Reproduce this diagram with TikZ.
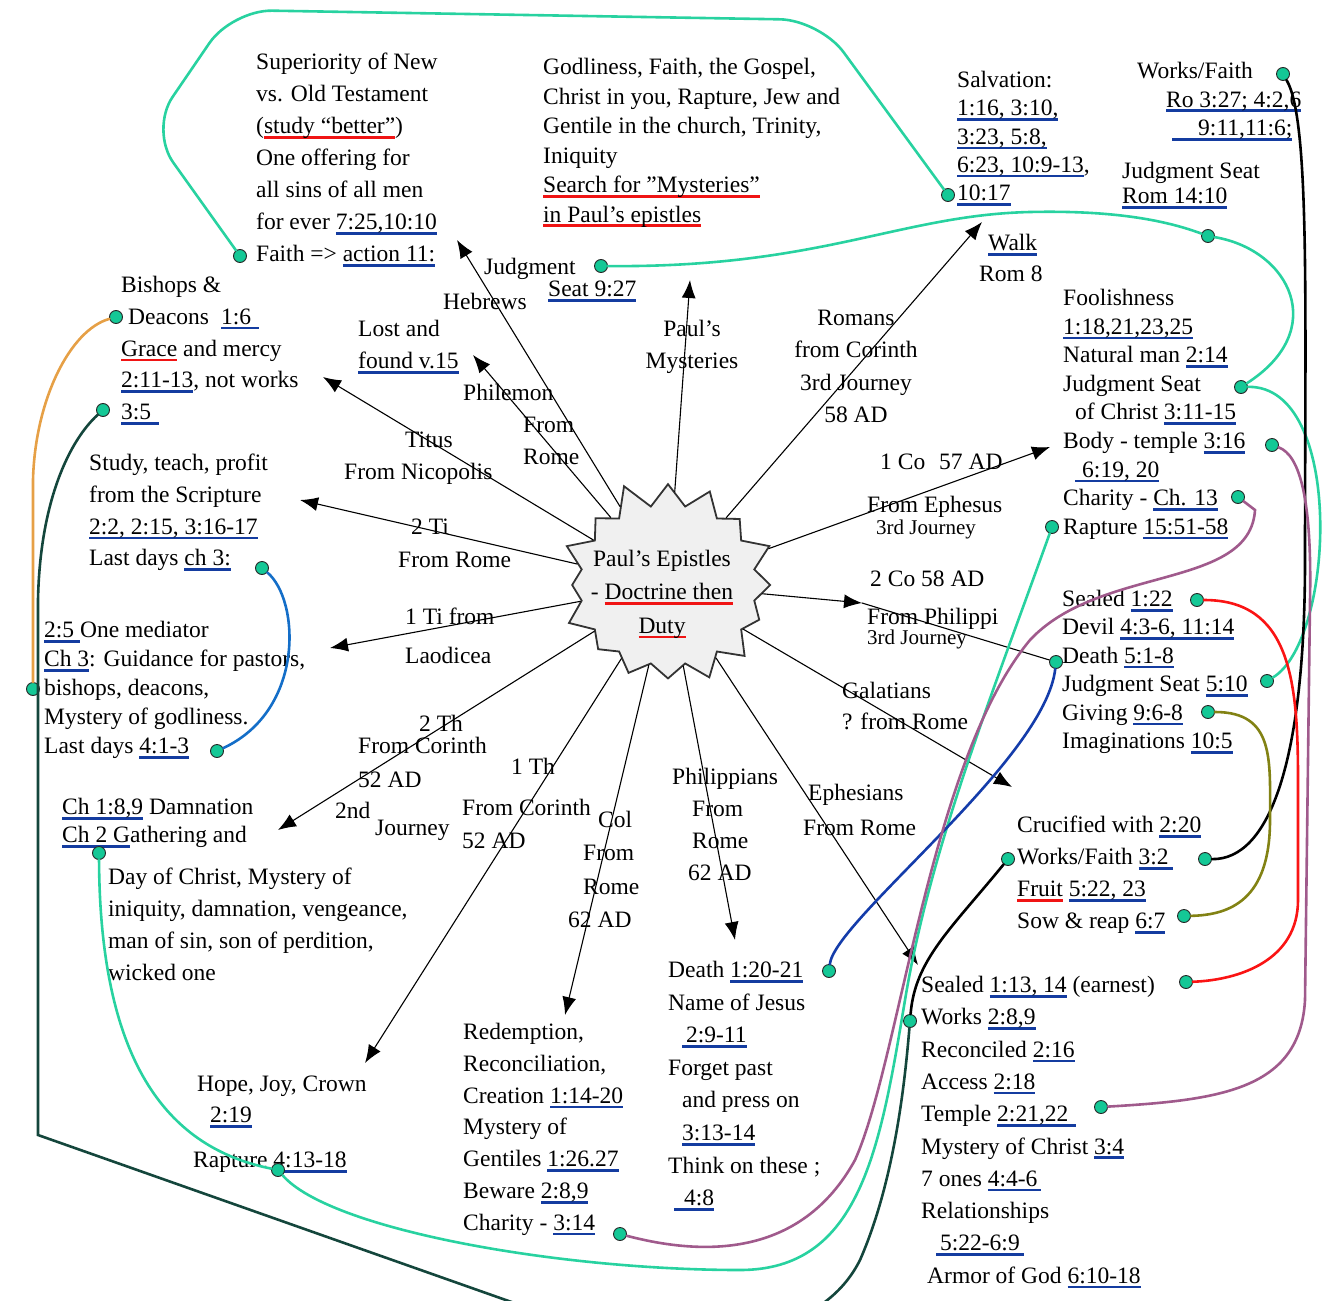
\documentclass[tikz,border=0pt]{standalone}
\usepackage{fontspec}
\setmainfont{Liberation Serif}
\usepackage{tikz}
\usetikzlibrary{shapes.symbols,arrows.meta}

\definecolor{dotg}{RGB}{20,200,150}
\definecolor{lteal}{RGB}{40,210,160}
\definecolor{ulblue}{RGB}{20,60,160}
\definecolor{ulred}{RGB}{240,20,20}
\definecolor{lorange}{RGB}{230,160,70}
\definecolor{dteal}{RGB}{20,70,60}
\definecolor{lblue}{RGB}{20,110,200}
\definecolor{dblue}{RGB}{20,60,170}
\definecolor{mauve}{RGB}{160,90,140}
\definecolor{lolive}{RGB}{130,130,20}
\definecolor{lred}{RGB}{250,20,20}

\newsavebox\ubox
\newcommand\bu[1]{\sbox\ubox{#1}\rlap{\color{ulblue}\rule[-5pt]{\wd\ubox}{2.6pt}}\usebox\ubox}
\newcommand\rl[1]{\sbox\ubox{#1}\rlap{\color{ulred}\rule[-5pt]{\wd\ubox}{2.6pt}}\usebox\ubox}

\tikzset{
  txt/.style={anchor=north west, inner sep=0pt, align=left, font=\fontsize{23.5}{#1}\selectfont},
  txt/.default=32,
  dot/.style={circle, fill=dotg, draw=black!85, line width=0.9pt, inner sep=0pt, minimum size=13pt},
  arr/.style={-{Latex[length=18pt,width=14pt]}, line width=1.1pt},
  link/.style={line width=2.6pt},
}

\begin{document}
\begin{tikzpicture}[x=1pt,y=-1pt,line cap=round]
\useasboundingbox (0,0) rectangle (1329,1300);

\node[starburst, starburst points=16, starburst point height=28pt, random starburst=11,
  minimum width=232pt, minimum height=216pt, fill=gray!12, draw=black!80, line width=1.8pt] (pe) at (668,585) {};
\node[align=center, inner sep=0pt, font=\fontsize{23.5}{33.5}\selectfont] (pe-t) at (662,594)
  {Paul's Epistles\\- \rl{Doctrine then}\\\rl{Duty}};

\node[txt] (heb) at (256,53) {Superiority of New\\vs. Old Testament\\(\rl{study “better”})\\One offering for\\all sins of all men\\for ever \bu{7:25,10:10}\\Faith => \bu{action 11:}};
\node[txt=29.5] (myst) at (543,58) {Godliness, Faith, the Gospel,\\Christ in you, Rapture, Jew and\\Gentile in the church, Trinity,\\Iniquity\\\rl{Search for "Mysteries"}\\\rl{in Paul's epistles}};
\node[txt] (jud) at (484,258) {Judgment};
\node[txt] (jud-s) at (548,281) {\bu{Seat 9:27}};
\node[txt=28.3] (salv) at (957,71) {Salvation:\\\bu{1:16, 3:10,}\\\bu{3:23, 5:8,}\\\bu{6:23, 10:9-13},\\\bu{10:17}};
\node[txt=28.5] (wfr) at (1137,62) {Works/Faith\\\hspace*{29pt}\bu{Ro 3:27; 4:2,6}\\\hspace*{35pt}\bu{\hspace*{26pt}9:11,11:6;}};
\node[txt=25] (js14) at (1122,162) {Judgment Seat\\\bu{Rom 14:10}};
\node[txt=31] (walk) at (979,234) {\hspace*{9pt}\bu{Walk}\\Rom 8};
\node[txt=28.6] (co1) at (1063,289) {Foolishness\\\bu{1:18,21,23,25}\\Natural man \bu{2:14}\\Judgment Seat\\\hspace*{12pt}of Christ \bu{3:11-15}\\Body - temple \bu{3:16}\\\hspace*{12pt}\bu{\hspace*{7pt}6:19, 20}\\Charity - \bu{Ch. 13}\\Rapture \bu{15:51-58}};
\node[txt=28.4] (co2) at (1062,590) {Sealed \bu{1:22}\\Devil \bu{4:3-6, 11:14}\\Death \bu{5:1-8}\\Judgment Seat \bu{5:10}\\Giving \bu{9:6-8}\\Imaginations \bu{10:5}};
\node[txt] (gal) at (1017,816) {Crucified with \bu{2:20}\\Works/Faith \bu{3:2\,}\\\rl{Fruit} \bu{5:22, 23}\\Sow \& reap \bu{6:7}};
\node[txt=32.3] (eph) at (921,976) {Sealed \bu{1:13, 14} (earnest)\\Works \bu{2:8,9}\\Reconciled \bu{2:16}\\Access \bu{2:18}\\Temple \bu{2:21,22\,\,}\\Mystery of Christ \bu{3:4}\\7 ones \bu{4:4-6\,}\\Relationships\\\hspace*{15pt}\bu{\,5:22-6:9\,}\\\hspace*{6pt}Armor of God \bu{6:10-18}};
\node[txt=32.6] (php) at (668,961) {Death \bu{1:20-21}\\Name of Jesus\\\hspace*{14pt}\bu{\,2:9-11}\\Forget past\\\hspace*{14pt}and press on\\\hspace*{14pt}\bu{3:13-14}\\Think on these ;\\\hspace*{6pt}\bu{\hspace*{10pt}4:8}};
\node[txt=31.8] (col) at (463,1023) {Redemption,\\Reconciliation,\\Creation \bu{1:14-20}\\Mystery of\\Gentiles \bu{1:26.27}\\Beware \bu{2:8,9}\\Charity - \bu{3:14}};
\node[txt=31] (th1) at (197,1076) {Hope, Joy, Crown\\\hspace*{13pt}\bu{2:19}};
\node[txt] (th1-r) at (193,1152) {Rapture \bu{4:13-18}};
\node[txt=28] (th2) at (62,798) {\bu{Ch 1:8,9} Damnation\\\bu{Ch 2 G}athering and};
\node[txt] (th2-d) at (108,868) {Day of Christ, Mystery of\\iniquity, damnation, vengeance,\\man of sin, son of perdition,\\wicked one};
\node[txt=29] (ti1) at (44,621) {\bu{2:5 }One mediator\\\bu{Ch 3}: Guidance for pastors,\\bishops, deacons,\\Mystery of godliness.\\Last days \bu{4:1-3}};
\node[txt=31.7] (ti2) at (89,454) {Study, teach, profit\\from the Scripture\\\bu{2:2, 2:15, 3:16-17}\\Last days \bu{ch 3:}};
\node[txt=31.8] (tit) at (121,276) {Bishops \&\\\hspace*{7pt}Deacons\hspace*{12pt}\bu{1:6\,\,}\\\rl{Grace} and mercy\\\bu{2:11-13}, not works\\\bu{3:5\,\,}};
\node[txt] (phm) at (358,320) {Lost and\\\bu{found v.15}};

\node[txt] (l-heb) at (443,293) {Hebrews};
\node[txt, anchor=north, align=center] (l-myst) at (692,320) {Paul's\\Mysteries};
\node[txt] (l-phm) at (463,384) {Philemon\\\hspace*{60pt}From\\\hspace*{60pt}Rome};
\node[txt] (l-tit) at (344,432) {\hspace*{61pt}Titus\\From Nicopolis};
\node[txt=33] (l-2ti) at (398,519) {\hspace*{13pt}2 Ti\\From Rome};
\node[txt=39] (l-1ti) at (405,608) {1 Ti from\\Laodicea};
\node[txt=32.3, anchor=north, align=center] (l-rom) at (856,310) {Romans\\from Corinth\\3rd Journey\\58 AD};
\node[txt] (l-1co) at (880,454) {1 Co\hspace{14pt}57 AD};
\node[txt=22] (l-1co-b) at (867,496) {From Ephesus\\\hspace*{9pt}{\fontsize{21}{22}\selectfont 3rd Journey}};
\node[txt] (l-2co) at (870,571) {2 Co 58 AD};
\node[txt=20] (l-2co-b) at (867,608) {From Philippi\\{\fontsize{21}{20}\selectfont 3rd Journey}};
\node[txt=31] (l-gal) at (842,682) {Galatians\\? from Rome};
\node[txt=35] (l-eph) at (803,784) {\hspace*{5pt}Ephesians\\From Rome};
\node[txt] (l-php) at (672,768) {Philippians\\\hspace*{20pt}From\\\hspace*{20pt}Rome\\\hspace*{16pt}62 AD};
\node[txt=33.3] (l-col) at (568,811) {\hspace*{30pt}Col\\\hspace*{15pt}From\\\hspace*{15pt}Rome\\62 AD};
\node[txt] (l-1th) at (511,758) {1 Th};
\node[txt=33] (l-1th-b) at (462,799) {From Corinth\\52 AD};
\node[txt] (l-2th) at (419,715) {2 Th};
\node[txt=34] (l-2th-b) at (358,737) {From Corinth\\52 AD};
\node[txt] (l-2nd) at (335,802) {2nd};
\node[txt] (l-jour) at (375,820) {Journey};

\node[dot] (d-heb) at (240,256) {};
\node[dot] (d-jud) at (601,266) {};
\node[dot] (d-salv) at (948,195) {};
\node[dot] (d-wf) at (1283,74) {};
\node[dot] (d-rom14) at (1208,236) {};
\node[dot] (d-js1) at (1241,387) {};
\node[dot] (d-bdy) at (1272,445) {};
\node[dot] (d-c13) at (1238,497) {};
\node[dot] (d-rap1) at (1052,527) {};
\node[dot] (d-sl2) at (1197,600) {};
\node[dot] (d-dth2) at (1056,662) {};
\node[dot] (d-js2) at (1267,681) {};
\node[dot] (d-giv) at (1208,712) {};
\node[dot] (d-wf3) at (1008,859) {};
\node[dot] (d-wfr) at (1205,859) {};
\node[dot] (d-sow) at (1184,916) {};
\node[dot] (d-sl1) at (1186,982) {};
\node[dot] (d-wrk) at (910,1021) {};
\node[dot] (d-tmp) at (1101,1107) {};
\node[dot] (d-dth1) at (829,971) {};
\node[dot] (d-ch3) at (620,1234) {};
\node[dot] (d-rap2) at (278,1170) {};
\node[dot] (d-gath) at (99,853) {};
\node[dot] (d-2ti) at (262,568) {};
\node[dot] (d-1ti) at (217,751) {};
\node[dot] (d-bish) at (33,689) {};
\node[dot] (d-dea) at (116,317) {};
\node[dot] (d-35) at (103,410) {};

\coordinate (t-heb) at (457,240);
\coordinate (t-myst) at (690,280);
\coordinate (t-phm) at (473,355);
\coordinate (t-tit) at (323,377);
\coordinate (t-2ti) at (300,500);
\coordinate (t-1ti) at (330,648);
\coordinate (t-2th) at (278,830);
\coordinate (t-1th) at (365,1063);
\coordinate (t-col) at (565,1015);
\coordinate (t-php) at (735,940);
\coordinate (t-eph) at (918,965);
\coordinate (t-gal) at (1012,787);
\coordinate (t-2co) at (862,603);
\coordinate (t-1co) at (1050,447);
\coordinate (t-rom) at (982,222);

\draw[arr] (pe) -- (t-heb);
\draw[arr] (pe) -- (t-myst);
\draw[arr] (pe) -- (t-phm);
\draw[arr] (pe) -- (t-tit);
\draw[arr] (pe) -- (t-2ti);
\draw[arr] (pe) -- (t-1ti);
\draw[arr] (pe) -- (t-2th);
\draw[arr] (pe) -- (t-1th);
\draw[arr] (pe) -- (t-col);
\draw[arr] (pe) -- (t-php);
\draw[arr] (pe) -- (t-eph);
\draw[arr] (pe) -- (t-gal);
\draw[arr] (pe) -- (t-2co);
\draw[line width=1.1pt] (t-2co) -- (d-dth2);
\draw[arr] (pe) -- (t-1co);
\draw[arr] (pe) -- (t-rom);

\draw[link, lteal, rounded corners=40pt] (d-heb) -- (150,130) -- (232,10) -- (820,20) -- (d-salv);
\draw[link, lteal] (d-jud) .. controls (820,268) and (900,215) .. (1030,212) .. controls (1120,210) and (1170,222) .. (d-rom14);
\draw[link, lteal] (d-rom14) .. controls (1290,250) and (1330,330) .. (d-js1);
\draw[link, lteal] (d-js1) .. controls (1345,385) and (1335,640) .. (d-js2);
\draw[link, lteal] (d-rap1) .. controls (990,700) and (930,850) .. (905,1000) .. controls (880,1150) and (860,1270) .. (740,1270) .. controls (560,1270) and (330,1230) .. (d-rap2);
\draw[link, lteal] (d-rap2) .. controls (180,1150) and (100,1080) .. (d-gath);
\draw[link, lorange] (d-dea) .. controls (70,330) and (35,400) .. (33,480) -- (d-bish);
\draw[link, dteal] (d-35) .. controls (70,440) and (40,500) .. (38,600) -- (38,1135) -- (520,1305) .. controls (700,1360) and (820,1340) .. (860,1260) .. controls (895,1180) and (905,1080) .. (d-wrk);
\draw[link, black] (d-wf3) .. controls (950,930) and (915,960) .. (d-wrk);
\draw[link, black] (d-wfr) .. controls (1270,860) and (1305,760) .. (1305,560) .. controls (1305,300) and (1310,120) .. (d-wf);
\draw[link, lblue] (d-2ti) .. controls (300,600) and (305,710) .. (d-1ti);
\draw[link, dblue] (d-dth1) .. controls (835,920) and (1045,760) .. (d-dth2);
\draw[link, mauve] (d-ch3) .. controls (700,1255) and (800,1260) .. (855,1160) .. controls (900,1060) and (930,760) .. (1030,640) .. controls (1100,565) and (1250,590) .. (1255,510) -- (d-c13);
\draw[link, mauve] (d-tmp) .. controls (1220,1100) and (1300,1090) .. (1305,1000) -- (1310,600) .. controls (1312,500) and (1300,455) .. (d-bdy);
\draw[link, lred] (d-sl2) .. controls (1290,600) and (1298,680) .. (1298,780) -- (1298,900) .. controls (1298,960) and (1240,980) .. (d-sl1);
\draw[link, lolive] (d-giv) .. controls (1275,712) and (1270,760) .. (1270,820) .. controls (1270,900) and (1230,915) .. (d-sow);

\end{tikzpicture}
\end{document}
